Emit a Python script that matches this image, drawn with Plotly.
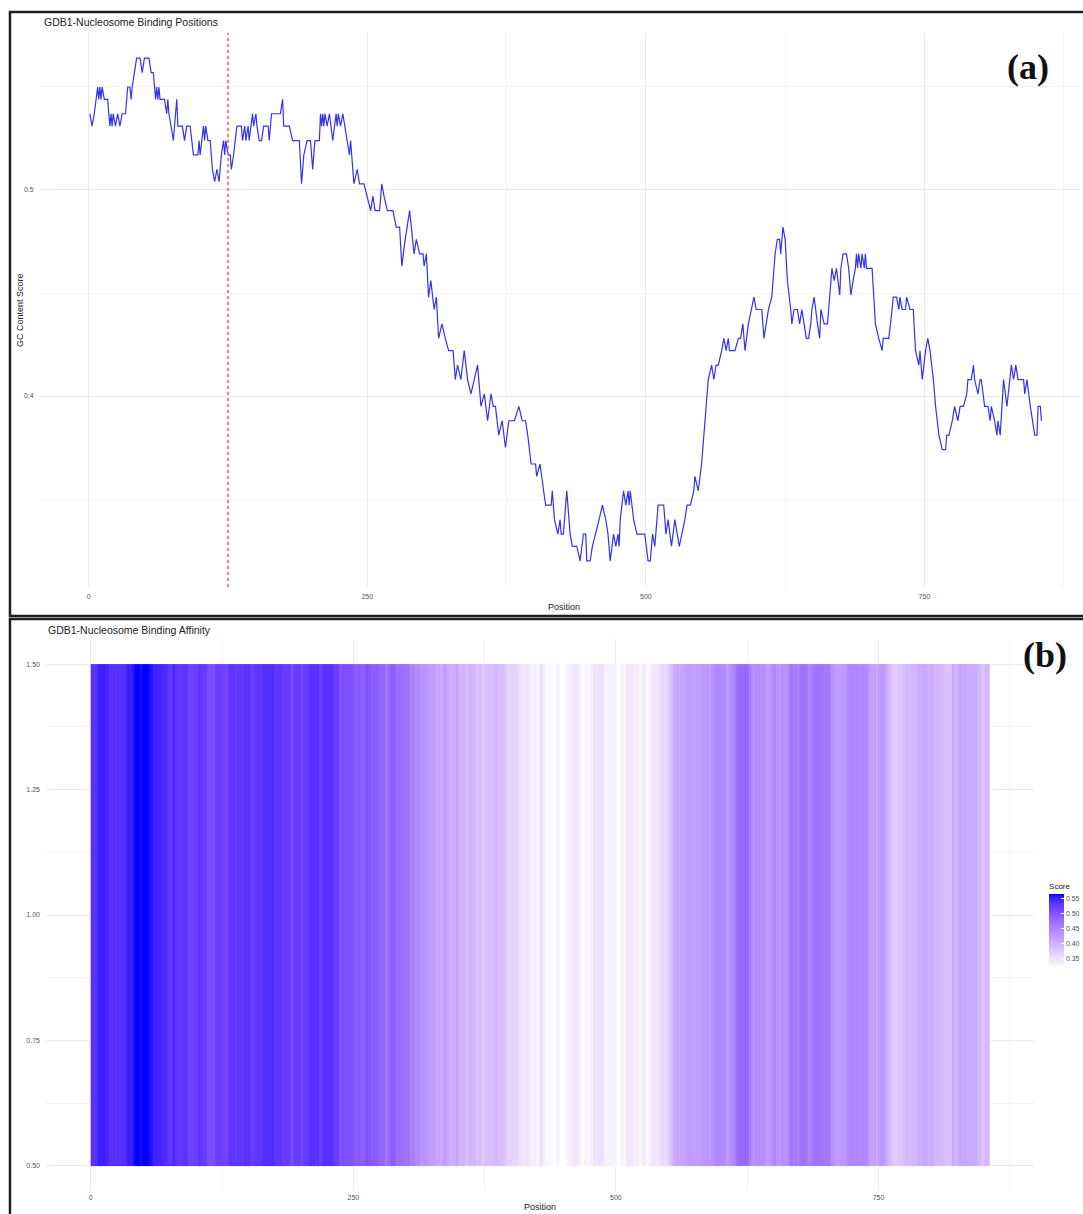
import plotly.graph_objects as go

# ---------------- data ----------------
positions = [
    1, 3, 5, 8, 9, 10, 11, 12, 14, 17,
    18, 19, 20, 21, 22, 24, 26, 28, 30, 33,
    35, 37, 38, 39, 41, 43, 46, 48, 50, 54,
    56, 58, 60, 61, 62, 63, 64, 68, 70, 71,
    72, 74, 76, 77, 79, 80, 84, 86, 88, 91,
    94, 98, 99, 100, 103, 104, 105, 107, 109, 111,
    113, 115, 117, 119, 121, 122, 123, 125, 127, 128,
    130, 133, 137, 138, 140, 141, 143, 144, 147, 148,
    150, 151, 153, 155, 157, 161, 162, 164, 172, 174,
    175, 180, 183, 189, 191, 193, 196, 199, 201, 203,
    207, 208, 209, 210, 211, 212, 214, 216, 219, 222,
    223, 224, 226, 228, 230, 232, 234, 235, 238, 241,
    243, 247, 250, 253, 255, 257, 261, 263, 265, 268,
    273, 276, 279, 281, 284, 288, 292, 294, 297, 300,
    301, 303, 305, 307, 310, 312, 314, 317, 320, 323,
    327, 329, 331, 334, 337, 340, 343, 346, 349, 352,
    355, 358, 361, 363, 365, 368, 371, 374, 377, 382,
    386, 389, 392, 394, 397, 401, 402, 405, 408, 410,
    415, 416, 418, 421, 423, 424, 426, 429, 432, 434,
    438, 441, 444, 446, 447, 450, 452, 455, 458, 461,
    464, 466, 468, 471, 473, 475, 476, 477, 480, 482,
    484, 485, 486, 489, 492, 499, 502, 504, 506, 508,
    511, 516, 518, 520, 523, 526, 528, 530, 535, 537,
    540, 543, 544, 547, 550, 553, 556, 559, 561, 563,
    565, 568, 570, 572, 574, 575, 580, 583, 585, 587,
    589, 592, 595, 597, 599, 604, 606, 608, 610, 613,
    616, 618, 620, 621, 623, 625, 627, 630, 631, 633,
    636, 638, 640, 642, 644, 646, 648, 649, 651, 654,
    656, 657, 660, 663, 666, 667, 669, 671, 674, 675,
    677, 680, 682, 684, 686, 688, 689, 690, 691, 693,
    694, 696, 697, 698, 703, 706, 709, 712, 713, 718,
    721, 722, 725, 727, 728, 730, 733, 734, 737, 740,
    742, 745, 746, 748, 751, 753, 755, 758, 760, 763,
    766, 769, 770, 772, 775, 777, 780, 782, 785, 788,
    789, 792, 794, 795, 798, 800, 801, 804, 807, 809,
    810, 813, 815, 816, 818, 821, 824, 827, 828, 830,
    832, 834, 839, 840, 842, 845, 849, 851, 852, 854,
    855,
]

gc_score = [
    0.537, 0.531, 0.537, 0.550, 0.544, 0.550, 0.544, 0.550, 0.544, 0.544,
    0.537, 0.531, 0.537, 0.531, 0.537, 0.531, 0.537, 0.531, 0.537, 0.537,
    0.550, 0.550, 0.544, 0.550, 0.557, 0.564, 0.564, 0.557, 0.564, 0.564,
    0.557, 0.557, 0.544, 0.550, 0.544, 0.550, 0.544, 0.544, 0.537, 0.544,
    0.537, 0.531, 0.524, 0.531, 0.544, 0.531, 0.531, 0.524, 0.531, 0.531,
    0.517, 0.517, 0.524, 0.517, 0.531, 0.524, 0.531, 0.524, 0.524, 0.510,
    0.504, 0.510, 0.504, 0.517, 0.524, 0.517, 0.524, 0.517, 0.517, 0.510,
    0.517, 0.531, 0.531, 0.524, 0.531, 0.524, 0.531, 0.524, 0.537, 0.531,
    0.537, 0.531, 0.524, 0.524, 0.531, 0.531, 0.524, 0.537, 0.537, 0.544,
    0.531, 0.531, 0.524, 0.524, 0.503, 0.517, 0.524, 0.524, 0.510, 0.524,
    0.524, 0.537, 0.531, 0.537, 0.531, 0.537, 0.531, 0.537, 0.524, 0.537,
    0.531, 0.537, 0.531, 0.537, 0.531, 0.524, 0.517, 0.524, 0.503, 0.510,
    0.503, 0.503, 0.497, 0.490, 0.497, 0.490, 0.490, 0.503, 0.497, 0.490,
    0.490, 0.482, 0.482, 0.463, 0.476, 0.490, 0.469, 0.476, 0.469, 0.469,
    0.463, 0.469, 0.448, 0.456, 0.442, 0.448, 0.428, 0.435, 0.428, 0.422,
    0.422, 0.408, 0.415, 0.408, 0.422, 0.408, 0.401, 0.408, 0.415, 0.395,
    0.401, 0.388, 0.401, 0.395, 0.395, 0.381, 0.388, 0.375, 0.388, 0.388,
    0.395, 0.388, 0.388, 0.381, 0.367, 0.367, 0.361, 0.367, 0.354, 0.347,
    0.347, 0.354, 0.340, 0.333, 0.340, 0.333, 0.333, 0.354, 0.333, 0.327,
    0.327, 0.320, 0.333, 0.333, 0.320, 0.320, 0.327, 0.333, 0.340, 0.347,
    0.340, 0.333, 0.320, 0.333, 0.327, 0.333, 0.327, 0.340, 0.354, 0.347,
    0.354, 0.347, 0.354, 0.340, 0.333, 0.333, 0.320, 0.320, 0.333, 0.327,
    0.347, 0.347, 0.333, 0.340, 0.327, 0.340, 0.333, 0.327, 0.340, 0.347,
    0.347, 0.354, 0.361, 0.354, 0.367, 0.387, 0.408, 0.415, 0.408, 0.415,
    0.415, 0.422, 0.428, 0.422, 0.428, 0.422, 0.422, 0.428, 0.428, 0.435,
    0.422, 0.435, 0.442, 0.448, 0.442, 0.442, 0.428, 0.435, 0.442, 0.448,
    0.469, 0.476, 0.476, 0.469, 0.482, 0.476, 0.456, 0.442, 0.435, 0.442,
    0.442, 0.435, 0.442, 0.435, 0.428, 0.428, 0.435, 0.442, 0.448, 0.435,
    0.428, 0.442, 0.435, 0.435, 0.456, 0.462, 0.456, 0.462, 0.449, 0.462,
    0.469, 0.469, 0.462, 0.449, 0.456, 0.462, 0.469, 0.462, 0.469, 0.462,
    0.469, 0.462, 0.469, 0.462, 0.462, 0.435, 0.428, 0.422, 0.428, 0.428,
    0.442, 0.448, 0.448, 0.442, 0.448, 0.442, 0.442, 0.448, 0.442, 0.442,
    0.422, 0.415, 0.422, 0.408, 0.422, 0.428, 0.422, 0.408, 0.395, 0.381,
    0.374, 0.374, 0.381, 0.381, 0.388, 0.395, 0.388, 0.395, 0.395, 0.401,
    0.408, 0.408, 0.415, 0.408, 0.401, 0.408, 0.408, 0.395, 0.395, 0.388,
    0.395, 0.388, 0.381, 0.388, 0.381, 0.408, 0.395, 0.408, 0.415, 0.408,
    0.415, 0.408, 0.408, 0.401, 0.408, 0.395, 0.381, 0.381, 0.395, 0.395,
    0.388,
]

binding_site = 125
x_ticks = [0, 250, 500, 750]
score_ticks = [0.35, 0.40, 0.45, 0.50, 0.55]
title_a = "GDB1-Nucleosome Binding Positions"
title_b = "GDB1-Nucleosome Binding Affinity"

# ---------------- colour gradient white -> blue in Lab space (like ggplot) ----------------
_WP = (0.95047, 1.0, 1.08883)


def _lin(c):
    c = c / 255.0
    return c / 12.92 if c <= 0.04045 else ((c + 0.055) / 1.055) ** 2.4


def _delin(c):
    c = max(0.0, min(1.0, c))
    c = 12.92 * c if c <= 0.0031308 else 1.055 * c ** (1 / 2.4) - 0.055
    return int(round(max(0.0, min(1.0, c)) * 255))


def rgb2lab(rgb):
    r, g, b = [_lin(v) for v in rgb]
    X = 0.4124 * r + 0.3576 * g + 0.1805 * b
    Y = 0.2126 * r + 0.7152 * g + 0.0722 * b
    Z = 0.0193 * r + 0.1192 * g + 0.9505 * b

    def f(t):
        return t ** (1 / 3) if t > 216 / 24389 else (24389 / 27 * t + 16) / 116

    fx, fy, fz = f(X / _WP[0]), f(Y / _WP[1]), f(Z / _WP[2])
    return (116 * fy - 16, 500 * (fx - fy), 200 * (fy - fz))


def lab2rgb(lab):
    L, a, b = lab
    fy = (L + 16) / 116
    fx = fy + a / 500
    fz = fy - b / 200

    def finv(t):
        return t ** 3 if t ** 3 > 216 / 24389 else (116 * t - 16) / (24389 / 27)

    X, Y, Z = finv(fx) * _WP[0], finv(fy) * _WP[1], finv(fz) * _WP[2]
    r = 3.2406 * X - 1.5372 * Y - 0.4986 * Z
    g = -0.9689 * X + 1.8758 * Y + 0.0415 * Z
    bb = 0.0557 * X - 0.2040 * Y + 1.0570 * Z
    return tuple(_delin(v) for v in (r, g, bb))


lo, hi = rgb2lab((255, 255, 255)), rgb2lab((0, 0, 255))
colorscale = []
n_stops = 21
for i in range(n_stops):
    t = i / (n_stops - 1)
    lab = tuple(lo[k] + (hi[k] - lo[k]) * t for k in range(3))
    r, g, b = lab2rgb(lab)
    colorscale.append([t, f"rgb({r},{g},{b})"])

# ---------------- geometry helpers (pixel -> paper) ----------------
W, H = 1083, 1214


def px(x):
    return x / W


def py(y):
    return 1 - y / H


FONT = "Liberation Sans, Arial, sans-serif"
TICKFONT = dict(family=FONT, size=7, color="#555555")
GRID = "#EBEBEB"
MINOR = "#F3F3F3"

fig = go.Figure()

fig.add_trace(go.Scatter(
    x=positions, y=gc_score, mode="lines",
    line=dict(color="#3333EE", width=1.2),
    xaxis="x", yaxis="y", showlegend=False, hoverinfo="skip",
))

fig.add_trace(go.Heatmap(
    x=positions, y=[0.5, 1.5], z=[gc_score],
    colorscale=colorscale, zmin=min(gc_score), zmax=max(gc_score),
    xaxis="x2", yaxis="y2",
    colorbar=dict(
        x=px(1052), xanchor="left", y=py(968), yanchor="bottom",
        len=88, lenmode="pixels", thickness=15, thicknessmode="pixels",
        outlinewidth=0, xpad=0, ypad=0,
        title=dict(text="Score", side="top", font=dict(family=FONT, size=8, color="#222222")),
        tickvals=score_ticks, ticktext=[f"{v:.2f}" for v in score_ticks],
        tickfont=TICKFONT, ticks="inside", ticklen=3, tickcolor="white",
    ),
    hoverinfo="skip",
))

axis_common = dict(
    showline=False, zeroline=False, showgrid=True, gridcolor=GRID, gridwidth=1,
    tickfont=TICKFONT, ticks="outside", tickcolor="rgba(0,0,0,0)",
)

fig.update_layout(
    width=W, height=H,
    margin=dict(l=0, r=0, t=0, b=0),
    paper_bgcolor="white", plot_bgcolor="white",
    font=dict(family=FONT),
    showlegend=False,
    xaxis=dict(
        domain=[px(41.2), 1.0], range=[-42.75, 889.6], anchor="y",
        tickvals=x_ticks, ticklen=3,
        minor=dict(dtick=125, tick0=0, showgrid=True, gridcolor=MINOR, gridwidth=0.7),
        **axis_common,
    ),
    yaxis=dict(
        domain=[py(587), py(33)], range=[0.3073, 0.5762], anchor="x",
        dtick=0.1, tick0=0, tickformat=".1f", ticklen=5,
        minor=dict(dtick=0.05, tick0=0, showgrid=True, gridcolor=MINOR, gridwidth=0.7),
        **axis_common,
    ),
    xaxis2=dict(
        domain=[px(46.5), px(1037.1)], range=[-42.25, 898.25], anchor="y2",
        tickvals=x_ticks, ticklen=0,
        minor=dict(dtick=125, tick0=0, showgrid=True, gridcolor=MINOR, gridwidth=0.7),
        **axis_common,
    ),
    yaxis2=dict(
        domain=[py(1191), py(639)], range=[0.45, 1.55], anchor="x2",
        dtick=0.25, tick0=0.5, tickformat=".2f", ticklen=4,
        minor=dict(dtick=0.125, tick0=0.5, showgrid=True, gridcolor=MINOR, gridwidth=0.7),
        **axis_common,
    ),
)

shapes = [
    # binding position marker
    dict(type="line", xref="x", yref="y domain", x0=binding_site, x1=binding_site, y0=0, y1=1,
         line=dict(color="#F06464", width=1.6, dash="3px,3px")),
    # panel frames
    dict(type="rect", xref="paper", yref="paper", x0=px(10), x1=px(1095), y0=py(616), y1=py(12),
         line=dict(color="#1E1E1E", width=2.5), fillcolor="rgba(0,0,0,0)", layer="above"),
    dict(type="rect", xref="paper", yref="paper", x0=px(10), x1=px(1095), y0=py(1225), y1=py(619),
         line=dict(color="#1E1E1E", width=2.5), fillcolor="rgba(0,0,0,0)", layer="above"),
]
fig.update_layout(shapes=shapes)

annotations = [
    dict(text=title_a, x=px(42), y=py(22), xanchor="left", yanchor="middle",
         font=dict(family=FONT, size=10.5, color="#222222")),
    dict(text=title_b, x=px(46), y=py(630), xanchor="left", yanchor="middle",
         font=dict(family=FONT, size=10.5, color="#222222")),
    dict(text="Position", x=px(566), y=py(607), xanchor="center", yanchor="middle",
         font=dict(family=FONT, size=9, color="#222222")),
    dict(text="Position", x=px(542), y=py(1207), xanchor="center", yanchor="middle",
         font=dict(family=FONT, size=9, color="#222222")),
    dict(text="GC Content Score", x=px(20), y=py(310), xanchor="center", yanchor="middle",
         textangle=-90, font=dict(family=FONT, size=9, color="#222222")),
    dict(text="<b>(a)</b>", x=px(1031), y=py(67), xanchor="center", yanchor="middle",
         font=dict(family="Liberation Serif, Times New Roman, serif", size=36, color="#111111")),
    dict(text="<b>(b)</b>", x=px(1048), y=py(655), xanchor="center", yanchor="middle",
         font=dict(family="Liberation Serif, Times New Roman, serif", size=36, color="#111111")),
]
for a in annotations:
    a.update(xref="paper", yref="paper", showarrow=False)
fig.update_layout(annotations=annotations)

fig.write_html("out.html")
